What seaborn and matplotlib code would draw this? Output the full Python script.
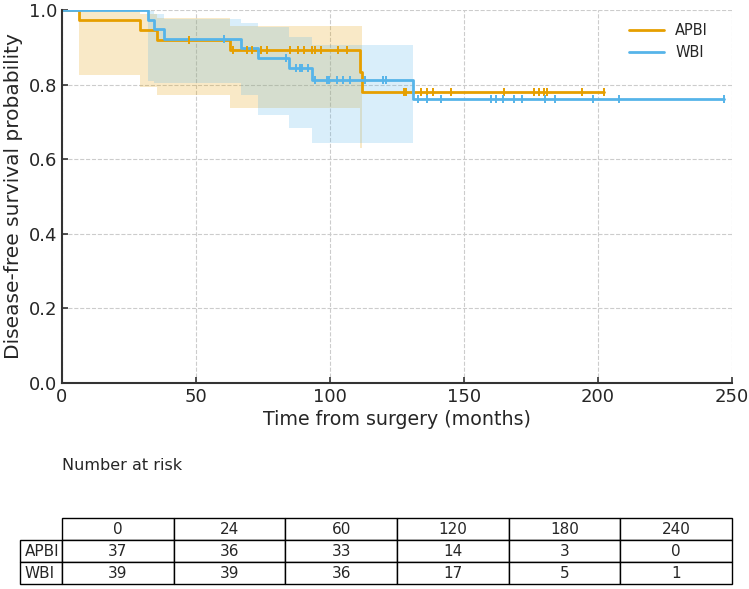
import numpy as np
import pandas as pd
import matplotlib
matplotlib.use("Agg")
import matplotlib.pyplot as plt
import seaborn as sns

# ---------------- data ----------------
groups = ["APBI", "WBI"]
colors = {"APBI": "#E69F00", "WBI": "#56B4E9"}

apbi_step_t = [0.0, 6.3, 29.0, 35.4, 62.7, 111.2, 111.9]
apbi_step_s = [1.0, 0.973, 0.946, 0.919, 0.893, 0.834, 0.780]
apbi_ci_lo = [1.0, 0.826, 0.793, 0.772, 0.737, 0.630]
apbi_ci_hi = [1.0, 0.997, 0.990, 0.978, 0.958, 0.958]
apbi_ci_end = 111.9
apbi_end = 202.2
apbi_cens = [47.4, 63.8, 69.0, 71.0, 74.3, 76.5, 85.0, 88.0, 90.3, 93.3, 94.4,
             96.6, 103.0, 106.3, 127.5, 128.3, 134.0, 136.2, 138.4, 145.0,
             165.0, 176.0, 178.0, 180.0, 181.0, 194.0, 202.2]

wbi_step_t = [0.0, 32.0, 34.4, 38.0, 66.8, 73.0, 84.7, 93.3, 130.8]
wbi_step_s = [1.0, 0.974, 0.949, 0.923, 0.898, 0.871, 0.845, 0.812, 0.761]
wbi_ci_lo = [1.0, 0.810, 0.805, 0.804, 0.772, 0.718, 0.684, 0.643]
wbi_ci_hi = [1.0, 0.996, 0.990, 0.977, 0.965, 0.955, 0.928, 0.906]
wbi_ci_end = 130.8
wbi_end = 247.0
wbi_cens = [60.4, 83.6, 87.3, 88.8, 89.6, 91.8, 94.4, 98.9, 99.6, 102.6, 104.9,
            107.5, 113.0, 119.8, 120.9, 132.8, 136.2, 141.4, 160.0, 162.0,
            164.6, 168.7, 171.6, 180.2, 184.0, 198.0, 207.8, 247.0]

risk_times = ["0", "24", "60", "120", "180", "240"]
apbi_risk = [37, 36, 33, 14, 3, 0]
wbi_risk = [39, 39, 36, 17, 5, 1]

curves = {
    "APBI": dict(t=apbi_step_t, s=apbi_step_s, lo=apbi_ci_lo, hi=apbi_ci_hi,
                 ci_end=apbi_ci_end, end=apbi_end, cens=apbi_cens),
    "WBI": dict(t=wbi_step_t, s=wbi_step_s, lo=wbi_ci_lo, hi=wbi_ci_hi,
                ci_end=wbi_ci_end, end=wbi_end, cens=wbi_cens),
}

# ---------------- figure ----------------
sns.set_theme(style="white")
plt.rcParams["font.family"] = ["DejaVu Sans"]

fig = plt.figure(figsize=(7.49, 5.89), dpi=100)
ax = fig.add_axes([62 / 749, 1 - 383 / 589, (732 - 62) / 749, (383 - 10) / 589])

rows = []
for g in groups:
    c = curves[g]
    ts = list(c["t"]) + [c["end"]]
    ss = list(c["s"]) + [c["s"][-1]]
    for t, s in zip(ts, ss):
        rows.append({"time": t, "surv": s, "group": g})
df = pd.DataFrame(rows)

# confidence bands
for g in groups:
    c = curves[g]
    n = len(c["lo"])
    xb = list(c["t"][:n]) + [c["ci_end"]]
    lo = list(c["lo"]) + [c["lo"][-1]]
    hi = list(c["hi"]) + [c["hi"][-1]]
    ax.fill_between(xb, lo, hi, step="post", color=colors[g], alpha=0.22,
                    linewidth=0)

sns.lineplot(data=df, x="time", y="surv", hue="group", palette=colors,
             hue_order=groups, estimator=None, sort=False,
             drawstyle="steps-post", linewidth=2, ax=ax)

# censor marks
for g in groups:
    c = curves[g]
    t = np.asarray(c["t"])
    s = np.asarray(c["s"])
    ct = np.asarray(c["cens"])
    idx = np.searchsorted(t, ct, side="right") - 1
    ax.plot(ct, s[idx], linestyle="none", marker="|", markersize=6,
            markeredgewidth=1.4, color=colors[g])

leg = ax.get_legend()
handles = leg.legend_handles
labels = [tx.get_text() for tx in leg.get_texts()]
leg.remove()
ax.legend(handles, labels, loc="upper right", frameon=False, fontsize=10.5,
          handlelength=2.4, labelspacing=0.45, bbox_to_anchor=(0.984, 1.0))

ax.set_xlim(0, 250)
ax.set_ylim(0, 1.0)
ax.set_xticks([0, 50, 100, 150, 200, 250])
ax.set_yticks([0.0, 0.2, 0.4, 0.6, 0.8, 1.0])
ax.set_xlabel("Time from surgery (months)", fontsize=13.7, labelpad=3)
ax.set_ylabel("Disease-free survival probability", fontsize=14.5, labelpad=4)
ax.tick_params(axis="both", labelsize=13, direction="in", length=4,
               width=1.2, color="#333333", left=True, bottom=True)
ax.grid(True, linestyle="--", color="#cccccc", linewidth=0.8)
for sp in ["top", "right"]:
    ax.spines[sp].set_visible(False)
for sp in ["left", "bottom"]:
    ax.spines[sp].set_color("#333333")
    ax.spines[sp].set_linewidth(1.5)

fig.text(62 / 749, 1 - 465 / 589, "Number at risk", fontsize=11.5,
         va="center", ha="left")

# ---------------- number-at-risk table ----------------
tax = fig.add_axes([62 / 749, 1 - 584 / 589, (732 - 62) / 749, (584 - 518) / 589])
tax.axis("off")
cell_text = [[str(v) for v in apbi_risk], [str(v) for v in wbi_risk]]
tbl = tax.table(cellText=cell_text, rowLabels=groups, colLabels=risk_times,
                cellLoc="center", rowLoc="left", colLoc="center",
                bbox=[0, 0, 1, 1])
tbl.auto_set_font_size(False)
tbl.set_fontsize(11)
for cell in tbl.get_celld().values():
    cell.set_edgecolor("black")
    cell.set_linewidth(1.0)

fig.savefig("out.png", dpi=100)
